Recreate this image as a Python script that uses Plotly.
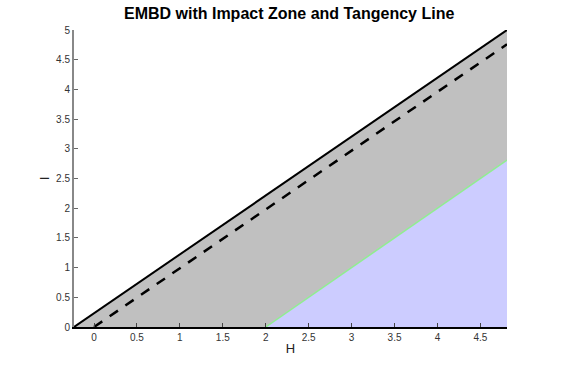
import plotly.graph_objects as go

# Data
x_range = [-0.233, 4.81]
y_range = [0, 5]
budget_x = [-0.233, 4.81]
budget_y = [0, 5.0]
tangent_x = [0, 4.81]
tangent_y = [0, 4.76]
impact_x = [2, 4.81]
impact_y = [0, 2.81]
x_ticks = [0, 0.5, 1, 1.5, 2, 2.5, 3, 3.5, 4, 4.5]
y_ticks = [0, 0.5, 1, 1.5, 2, 2.5, 3, 3.5, 4, 4.5, 5]

fig = go.Figure()
# gray region under the solid line
fig.add_trace(go.Scatter(x=budget_x, y=budget_y, mode="lines", fill="tozeroy",
                         fillcolor="rgb(192,192,192)", line=dict(color="rgba(0,0,0,0)", width=0),
                         hoverinfo="skip"))
# blue impact zone
fig.add_trace(go.Scatter(x=impact_x, y=impact_y, mode="lines", fill="tozeroy",
                         fillcolor="rgb(204,204,255)", line=dict(color="rgb(144,238,144)", width=1.5),
                         hoverinfo="skip"))
# solid line
fig.add_trace(go.Scatter(x=budget_x, y=budget_y, mode="lines",
                         line=dict(color="black", width=2), hoverinfo="skip"))
# dashed tangency line
fig.add_trace(go.Scatter(x=tangent_x, y=tangent_y, mode="lines",
                         line=dict(color="black", width=2.5, dash="10px,9px"), hoverinfo="skip"))

fig.update_layout(
    width=567, height=369,
    margin=dict(l=74, r=60, t=30, b=42),
    paper_bgcolor="white", plot_bgcolor="white",
    showlegend=False,
    font=dict(family="Liberation Sans, Arial, sans-serif", size=10, color="#333"),
    title=dict(text="<b>EMBD with Impact Zone and Tangency Line</b>", x=0.51, xanchor="center",
               y=0.965, yanchor="middle", font=dict(size=16, color="black")),
)
fig.update_xaxes(range=x_range, tickvals=x_ticks, ticktext=[f"{v:g}" for v in x_ticks],
                 showgrid=False, zeroline=False, showline=True, linecolor="black", linewidth=2,
                 ticks="inside", ticklen=4, tickcolor="#444", tickwidth=1,
                 title=dict(text="H", font=dict(size=13, color="#222"), standoff=2))
fig.update_yaxes(range=y_range, tickvals=y_ticks, ticktext=[f"{v:g}" for v in y_ticks],
                 showgrid=False, zeroline=False, showline=True, linecolor="#888", linewidth=2,
                 ticks="inside", ticklen=4, tickcolor="#666", tickwidth=1,
                 title=dict(text="I", font=dict(size=13, color="#222"), standoff=4))

fig.write_html("out.html")
